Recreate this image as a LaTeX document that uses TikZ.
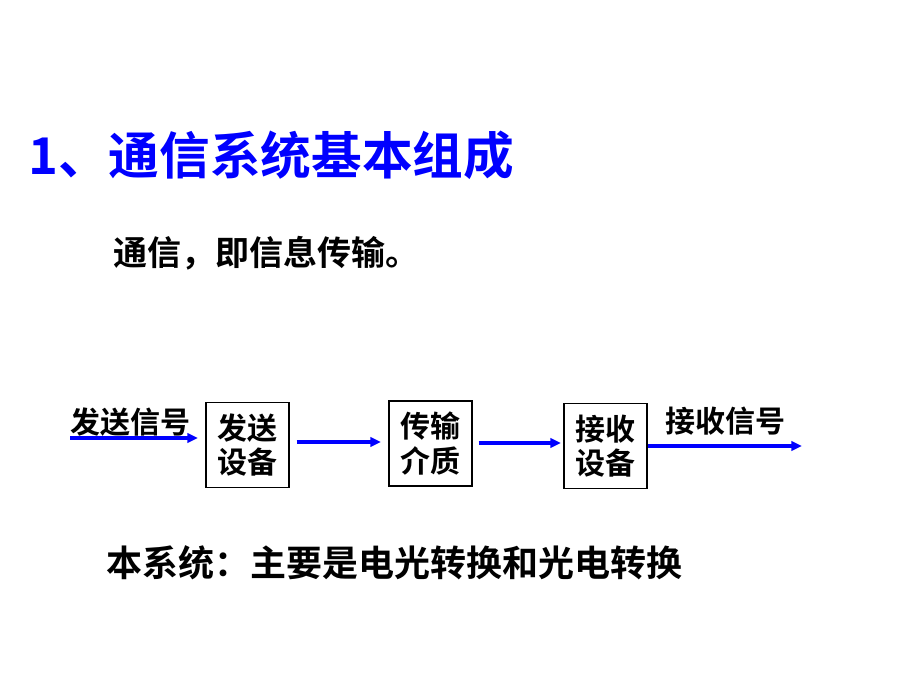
\documentclass[tikz,border=0pt]{standalone}
\usepackage{fontspec}
\setmainfont{Noto Sans CJK SC Bold}
\newfontfamily\cjkb{Noto Sans CJK SC Bold}
\usetikzlibrary{arrows.meta}
\definecolor{tblue}{RGB}{0,0,255}
\begin{document}
\begin{tikzpicture}[x=0.75pt,y=-0.75pt,
  box/.style={draw,line width=1.2pt,minimum width=62pt,minimum height=64pt,inner sep=0pt,
    align=center,font=\cjkb\fontsize{22.5}{26}\selectfont},
  lbl/.style={font=\cjkb\fontsize{22.5}{26}\selectfont,inner sep=0pt},
  arr/.style={draw=tblue,line width=2.4pt,-{Triangle[length=8pt,width=7pt]}}]
\useasboundingbox (0,0) rectangle (920,690);
\node[anchor=west,inner sep=0pt,text=tblue,font=\cjkb\fontsize{38}{44}\selectfont] (title) at (28,155) {1、通信系统基本组成};
\node[anchor=west,inner sep=0pt,font=\cjkb\fontsize{25.5}{30}\selectfont] (sub) at (113,253) {通信，即信息传输。};
\node[box] (b1) at (247.5,445) {发送\\设备};
\node[box] (b2) at (430.5,443.5) {传输\\介质};
\node[box] (b3) at (605.5,446) {接收\\设备};
\node[lbl,anchor=west] (l1) at (70,422) {发送信号};
\node[lbl,anchor=west] (l2) at (665,421) {接收信号};
\coordinate (in) at (70,438);
\coordinate (out) at (802,446);
\draw[arr] (in) -- (198,438);
\draw[arr] (b1.east |- 0,442) ++(7,0) -- (381,442);
\draw[arr] (b2.east |- 0,443) ++(6,0) -- (561,443);
\draw[arr] (b3.east |- 0,446) -- (out);
\node[anchor=west,inner sep=0pt,font=\cjkb\fontsize{27}{31}\selectfont] (bot) at (106,563) {本系统：主要是电光转换和光电转换};
\end{tikzpicture}
\end{document}
